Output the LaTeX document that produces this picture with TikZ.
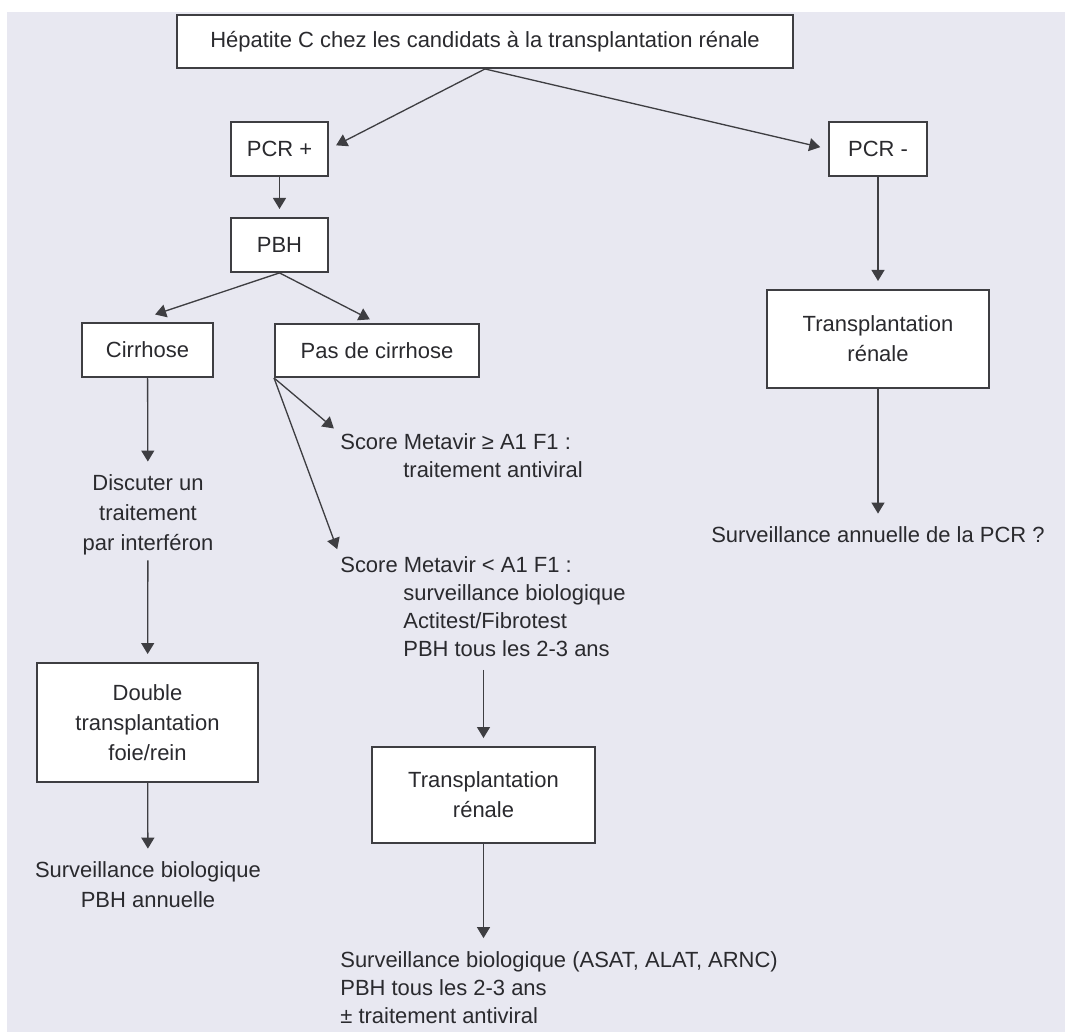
\documentclass[tikz,border=0pt]{standalone}
\usepackage{fontspec}
\setmainfont{Liberation Sans}
\usetikzlibrary{positioning,arrows.meta}
\definecolor{fond}{RGB}{232,232,241}
\definecolor{trait}{RGB}{62,62,66}
\definecolor{texte}{RGB}{42,42,46}

\begin{document}
\begin{tikzpicture}
		\tikzstyle{box}=[rectangle, draw=trait, line width=1.1pt, fill=white, align=center, text=texte, font=\fontsize{12.5}{17}\selectfont]
		\tikzstyle{txt}=[inner sep=0.1cm, align=center, text=texte, font=\fontsize{12.5}{17}\selectfont]
		\tikzstyle{txtl}=[inner sep=0.1cm, align=left, anchor=west, text=texte, font=\fontsize{12.5}{15.9}\selectfont]
		\tikzstyle{connect}=[-{Triangle[length=0.22cm,width=0.26cm]}, line width=0.75pt, draw=trait, shorten >=0.16cm]
		% fond
		\fill[white] (0,0) rectangle (21.30,-20.64);
		\fill[fond] (0.14,-0.24) rectangle (21.30,-20.64);
		\useasboundingbox (0,0) rectangle (21.30,-20.64);
		
		\node[box, minimum width=12.32cm, minimum height=1.06cm] (top) at (9.70,-0.83) {H\'epatite C chez les candidats \`a la transplantation r\'enale};
		
		\node[box, minimum width=1.94cm, minimum height=1.08cm] (pcrp) at (5.59,-2.98) {PCR +};
		\node[box, minimum width=1.94cm, minimum height=1.08cm] (pbh) [below=0.8cm of pcrp] {PBH};
		
		\node[box, minimum width=1.96cm, minimum height=1.08cm] (pcrm) at (17.56,-2.98) {PCR -};
		\node[box, minimum width=4.44cm, minimum height=1.96cm] (transr) [below=2.24cm of pcrm] {Transplantation\\r\'enale};
		\node[txt] (survann) at (17.56,-10.70) {Surveillance annuelle de la PCR ?};
		
		\node[box, minimum width=2.62cm, minimum height=1.08cm] (cirr) at (2.95,-7.00) {Cirrhose};
		\node[txt] (discuter) at (2.96,-10.30) {Discuter un\\traitement\\par interf\'eron};
		\node[box, minimum width=4.42cm, minimum height=2.38cm, font=\fontsize{12.5}{17}\selectfont] (double) at (2.95,-14.45) {Double\\transplantation\\foie/rein};
		\node[txt] (survbio) at (2.96,-17.70) {Surveillance biologique\\PBH annuelle};
		
		\node[box, minimum width=4.08cm, minimum height=1.06cm] (pasc) at (7.54,-7.01) {Pas de cirrhose};
		\node[txtl] (score1) at (6.70,-9.12) {Score Metavir ≥ A1 F1 :\\\hspace*{1.26cm}traitement antiviral};
		\node[txtl] (score2) at (6.70,-12.14) {Score Metavir < A1 F1 :\\\hspace*{1.26cm}surveillance biologique\\\hspace*{1.26cm}Actitest/Fibrotest\\\hspace*{1.26cm}PBH tous les 2-3 ans};
		\node[box, minimum width=4.46cm, minimum height=1.92cm] (transm) at (9.67,-15.90) {Transplantation\\r\'enale};
		\node[txtl] (final) at (6.70,-19.75) {Surveillance biologique (ASAT, ALAT, ARNC)\\PBH tous les 2-3 ans\\± traitement antiviral};
		
		\path (top.south) edge [connect] (pcrp.east);
		\path (top.south) edge [connect] (pcrm.west);
		
		\path (pcrp) edge [connect] (pbh);
		\path (pbh.south) edge [connect] ([yshift=0.1cm]cirr.north);
		\path (pbh.south) edge [connect] (pasc.north);
		
		\path (cirr) edge [connect] (discuter);
		\path (discuter) edge [connect] (double);
		\path (double) edge [connect] (survbio);
		
		\path (pasc.south west) edge [connect] ([xshift=0.1cm,yshift=-0.1cm]score1.north west);
		\path (pasc.south west) edge [connect] ([xshift=0.1cm,yshift=-0.1cm]score2.north west);
		\path ([yshift=-0.15cm]transm.north |- score2.south) edge [connect] (transm.north);
		\path (transm.south) edge [connect] (transm.south |- final.north);
		
		\path (pcrm) edge [connect] (transr);
		\path (transr) edge [connect] (survann);
	\end{tikzpicture}
\end{document}
